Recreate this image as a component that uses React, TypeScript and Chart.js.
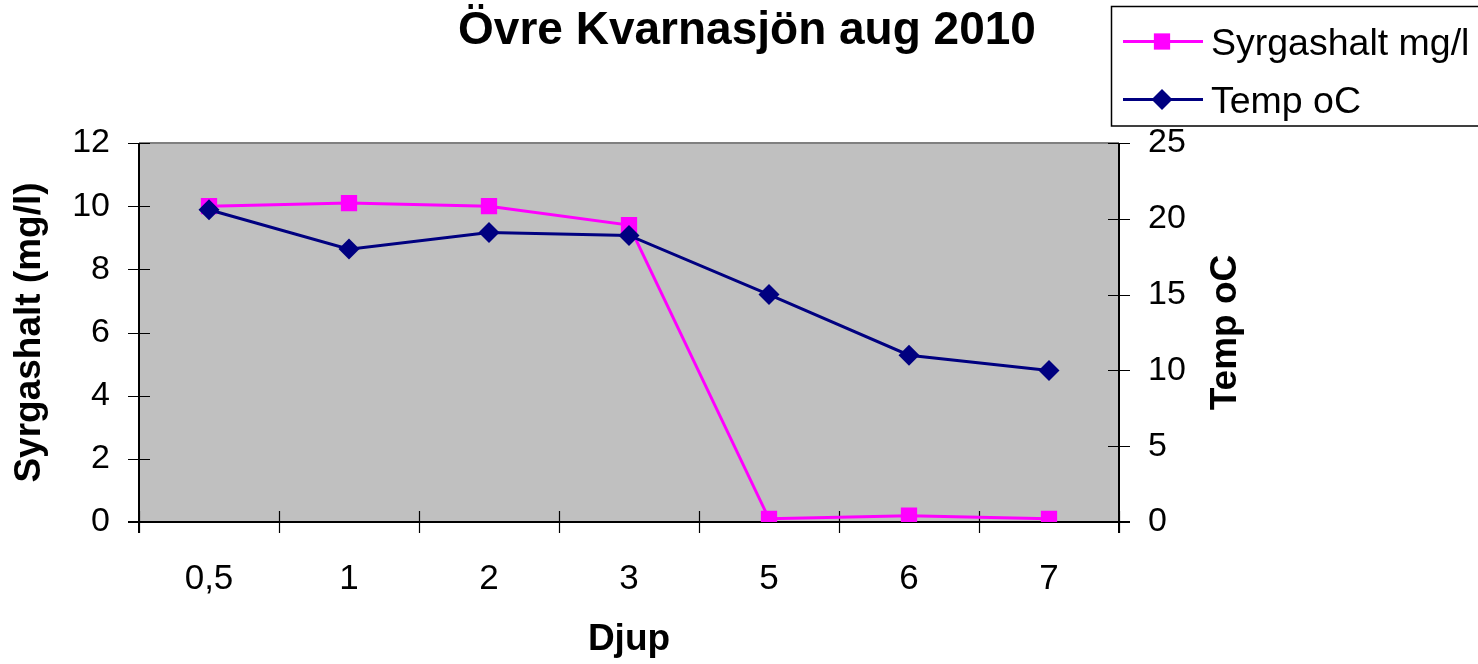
import React, { useEffect, useRef } from 'react';
import { Chart, registerables } from 'chart.js';

Chart.register(...registerables);

const TITLE = 'Övre Kvarnasjön aug 2010';
const X_TITLE = 'Djup';
const Y1_TITLE = 'Syrgashalt (mg/l)';
const Y2_TITLE = 'Temp oC';
const depths = ['0,5', '1', '2', '3', '5', '6', '7'];
const syrgashalt = [10.0, 10.1, 10.0, 9.4, 0.1, 0.2, 0.1];
const temp = [20.6, 18.0, 19.1, 18.9, 15.0, 11.0, 10.0];
const seriesLabels = ['Syrgashalt mg/l', 'Temp oC'];
const seriesColors = ['#FF00FF', '#000080'];
const y1Range = [0, 12, 2];
const y2Range = [0, 25, 5];

const FONT = '"Liberation Sans", Arial, sans-serif';
const W = 1478;
const H = 664;

function drawMarker(ctx: CanvasRenderingContext2D, style: string, x: number, y: number, r: number, color: string) {
  ctx.save();
  ctx.fillStyle = color;
  ctx.beginPath();
  if (style === 'rect') {
    const s = Math.SQRT1_2 * r;
    ctx.rect(x - s, y - s, 2 * s, 2 * s);
  } else {
    ctx.moveTo(x - r, y);
    ctx.lineTo(x, y - r);
    ctx.lineTo(x + r, y);
    ctx.lineTo(x, y + r);
    ctx.closePath();
  }
  ctx.fill();
  ctx.restore();
}

const decorPlugin = {
  id: 'decor',
  beforeDraw(chart: any) {
    const { ctx, chartArea } = chart;
    ctx.save();
    ctx.fillStyle = '#FFFFFF';
    ctx.fillRect(0, 0, W, H);
    ctx.fillStyle = '#C0C0C0';
    ctx.fillRect(chartArea.left, chartArea.top, chartArea.right - chartArea.left, chartArea.bottom - chartArea.top);
    ctx.restore();
  },
  beforeDatasetsDraw(chart: any) {
    const { ctx, chartArea, scales } = chart;
    const { left, right, top, bottom } = chartArea;
    const tl = 11;
    ctx.save();
    ctx.strokeStyle = '#808080';
    ctx.lineWidth = 2;
    ctx.beginPath();
    ctx.moveTo(left, top);
    ctx.lineTo(right, top);
    ctx.stroke();
    ctx.strokeStyle = '#000000';
    ctx.lineWidth = 2;
    ctx.beginPath();
    ctx.moveTo(left, top);
    ctx.lineTo(left, bottom + tl);
    ctx.moveTo(right, top);
    ctx.lineTo(right, bottom + tl);
    ctx.moveTo(left - tl, bottom);
    ctx.lineTo(right + tl, bottom);
    ctx.stroke();
    ctx.lineWidth = 1.2;
    ctx.beginPath();
    scales.y.ticks.forEach((t: any) => {
      const py = Math.round(scales.y.getPixelForValue(t.value)) + 0.5;
      ctx.moveTo(left - tl, py);
      ctx.lineTo(left + tl, py);
    });
    scales.y2.ticks.forEach((t: any) => {
      const py = Math.round(scales.y2.getPixelForValue(t.value)) + 0.5;
      ctx.moveTo(right - tl, py);
      ctx.lineTo(right + tl, py);
    });
    const x = scales.x;
    const step = x.getPixelForValue(1) - x.getPixelForValue(0);
    const start = x.getPixelForValue(0) - step / 2;
    for (let i = 0; i <= depths.length; i++) {
      const px = Math.round(start + i * step) + 0.5;
      ctx.moveTo(px, bottom - tl);
      ctx.lineTo(px, bottom + tl);
    }
    ctx.stroke();
    ctx.restore();
  },
  afterDraw(chart: any) {
    const { ctx, chartArea } = chart;
    ctx.save();
    ctx.fillStyle = '#000000';
    ctx.font = `bold 46px ${FONT}`;
    ctx.textAlign = 'center';
    ctx.textBaseline = 'alphabetic';
    ctx.fillText(TITLE, 747, 44);
    ctx.font = `bold 37px ${FONT}`;
    ctx.textBaseline = 'middle';
    ctx.fillText(X_TITLE, 629, 640);
    ctx.save();
    ctx.translate(30, (chartArea.top + chartArea.bottom) / 2);
    ctx.rotate(-Math.PI / 2);
    ctx.fillText(Y1_TITLE, 0, 0);
    ctx.restore();
    ctx.save();
    ctx.translate(1226, (chartArea.top + chartArea.bottom) / 2);
    ctx.rotate(-Math.PI / 2);
    ctx.fillText(Y2_TITLE, 0, 0);
    ctx.restore();
    ctx.fillStyle = '#FFFFFF';
    ctx.fillRect(1111, 6, 400, 120);
    ctx.strokeStyle = '#000000';
    ctx.lineWidth = 1.5;
    ctx.strokeRect(1111.5, 6.5, 400, 119.5);
    const rows = [41.5, 99.5];
    const styles = ['rect', 'rectRot'];
    const radii = [11.5, 10.5];
    seriesLabels.forEach((label, i) => {
      const yy = rows[i];
      ctx.strokeStyle = seriesColors[i];
      ctx.lineWidth = 3;
      ctx.beginPath();
      ctx.moveTo(1123, yy);
      ctx.lineTo(1203, yy);
      ctx.stroke();
      drawMarker(ctx, styles[i], 1162, yy, radii[i], seriesColors[i]);
      ctx.fillStyle = '#000000';
      ctx.font = `37.5px ${FONT}`;
      ctx.textAlign = 'left';
      ctx.textBaseline = 'alphabetic';
      ctx.fillText(label, 1211, yy + 7 + 0.35 * 37 - 6);
    });
    ctx.restore();
  },
};

export default function App() {
  const ref = useRef<HTMLCanvasElement | null>(null);
  useEffect(() => {
    if (!ref.current) return;
    Chart.defaults.font.family = FONT;
    const chart = new Chart(ref.current, {
      type: 'line',
      data: {
        labels: depths,
        datasets: [
          {
            label: seriesLabels[0],
            data: syrgashalt,
            yAxisID: 'y',
            borderColor: seriesColors[0],
            backgroundColor: seriesColors[0],
            borderWidth: 3,
            pointStyle: 'rect',
            pointRadius: 11.5,
            pointBorderWidth: 0,
            tension: 0,
            order: 2,
          },
          {
            label: seriesLabels[1],
            data: temp,
            yAxisID: 'y2',
            borderColor: seriesColors[1],
            backgroundColor: seriesColors[1],
            borderWidth: 3,
            pointStyle: 'rectRot',
            pointRadius: 10.5,
            pointBorderWidth: 0,
            tension: 0,
            order: 1,
          },
        ],
      },
      options: {
        responsive: false,
        animation: false,
        layout: { padding: { top: 143, left: 0, right: 0, bottom: 0 } },
        plugins: {
          legend: { display: false },
          title: { display: false },
          tooltip: { enabled: false },
        },
        scales: {
          x: {
            type: 'category',
            offset: true,
            grid: { display: false, offset: true, drawTicks: false },
            border: { display: false },
            ticks: {
              color: '#000000',
              font: { size: 35, family: FONT },
              padding: 36,
              maxRotation: 0,
              autoSkip: false,
            },
            afterFit: (s: any) => { s.height = 142; },
          },
          y: {
            position: 'left',
            min: y1Range[0],
            max: y1Range[1],
            grid: { display: false, drawTicks: false },
            border: { display: false },
            ticks: {
              stepSize: y1Range[2],
              color: '#000000',
              font: { size: 34, family: FONT },
              padding: 29,
            },
            afterFit: (s: any) => { s.width = 139; },
          },
          y2: {
            position: 'right',
            min: y2Range[0],
            max: y2Range[1],
            grid: { display: false, drawTicks: false },
            border: { display: false },
            ticks: {
              stepSize: y2Range[2],
              color: '#000000',
              font: { size: 34, family: FONT },
              padding: 29,
            },
            afterFit: (s: any) => { s.width = 359; },
          },
        },
      },
      plugins: [decorPlugin],
    });
    return () => chart.destroy();
  }, []);
  return (
    <div style={{ position: 'absolute', left: 0, top: 0, width: W, height: H }}>
      <canvas ref={ref} width={W} height={H} style={{ width: W, height: H, display: 'block' }} />
    </div>
  );
}
